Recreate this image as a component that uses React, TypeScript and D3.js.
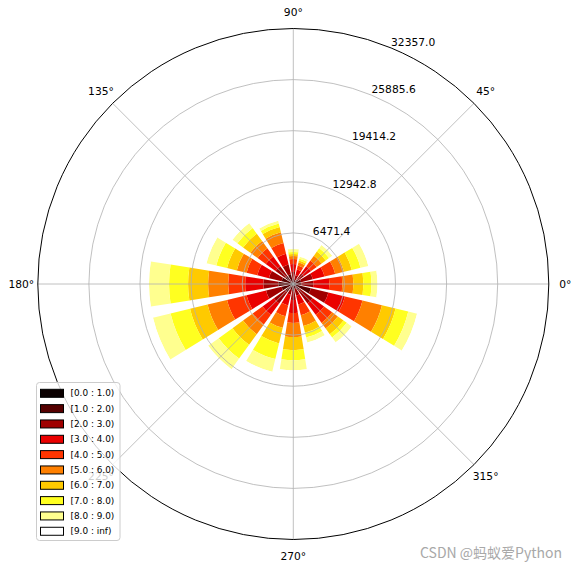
import React from 'react';
import * as d3 from 'd3';

// Direction centres (degrees, counter-clockwise from east)
const directions = [0, 22.5, 45, 67.5, 90, 112.5, 135, 157.5, 180, 202.5, 225, 247.5, 270, 292.5, 315, 337.5];

const binLabels = ['[0.0 : 1.0)', '[1.0 : 2.0)', '[2.0 : 3.0)', '[3.0 : 4.0)', '[4.0 : 5.0)', '[5.0 : 6.0)', '[6.0 : 7.0)', '[7.0 : 8.0)', '[8.0 : 9.0)', '[9.0 : inf)'];
const binColors = ['#0b0000', '#550000', '#9f0000', '#ea0000', '#ff3500', '#ff8000', '#ffca00', '#ffff20', '#ffff8f', '#ffffff'];

// Counts per speed bin, one value per direction (same order as `directions`)
const speed0to1 = [254, 254, 254, 127, 127, 254, 254, 254, 381, 381, 254, 254, 254, 127, 254, 381];
const speed1to2 = [761, 761, 508, 381, 508, 1015, 1015, 1269, 1523, 1142, 1015, 508, 635, 508, 761, 1904];
const speed2to3 = [1523, 1523, 888, 635, 888, 1269, 1523, 1650, 1904, 2030, 1777, 635, 1142, 888, 2030, 2284];
const speed3to4 = [2030, 1523, 1142, 761, 1015, 1396, 1523, 1523, 2284, 2538, 1777, 1396, 1650, 1142, 1777, 2157];
const speed4to5 = [1650, 1396, 888, 508, 635, 1396, 1269, 1396, 2157, 2538, 1523, 1396, 1269, 1396, 1269, 2284];
const speed5to6 = [1396, 1142, 761, 381, 381, 1396, 1142, 1269, 2538, 2538, 1523, 1523, 1777, 1396, 888, 2538];
const speed6to7 = [1269, 1015, 635, 254, 254, 698, 1142, 1269, 2538, 2284, 1650, 2030, 1650, 888, 888, 1777];
const speed7to8 = [1015, 1142, 508, 254, 254, 444, 888, 1396, 2411, 2538, 2157, 2030, 1269, 635, 508, 1650];
const speed8to9 = [761, 1015, 508, 254, 381, 381, 761, 1269, 2538, 2284, 1650, 1650, 1269, 635, 761, 1142];
const speed9up = [300, 250, 150, 80, 100, 150, 200, 300, 600, 550, 400, 350, 300, 150, 200, 400];

const radialTicks = [6471.4, 12942.8, 19414.2, 25885.6, 32357.0];
const angleTicks = [0, 45, 90, 135, 180, 225, 270, 315];

const W = 578;
const H = 569;
const cx = 293.3;
const cy = 284;
const R = 255.5;
const sectorDeg = 360 / directions.length;
const opening = 0.8;
const font = 'DejaVu Sans, sans-serif';

export default function App() {
  const bins = [speed0to1, speed1to2, speed2to3, speed3to4, speed4to5, speed5to6, speed6to7, speed7to8, speed8to9, speed9up];
  const r = d3.scaleLinear().domain([0, radialTicks[radialTicks.length - 1]]).range([0, R]);
  const arc = d3.arc<any>();
  const toRad = (d: number) => (d * Math.PI) / 180;
  const half = toRad((sectorDeg * opening) / 2);

  const segments: { d: string; fill: string; key: string }[] = [];
  directions.forEach((dir, i) => {
    let cum = 0;
    bins.forEach((b, j) => {
      const v = b[i];
      const a = Math.PI / 2 - toRad(dir);
      const d = arc({
        innerRadius: r(cum),
        outerRadius: r(cum + v),
        startAngle: a - half,
        endAngle: a + half,
      }) as string;
      segments.push({ d, fill: binColors[j], key: `${i}-${j}` });
      cum += v;
    });
  });

  const legendX = 36.5;
  const legendY = 382.5;
  const legendW = 83.5;
  const legendH = 158;
  const rowH = 15.33;

  return (
    <svg width={W} height={H} style={{ position: 'absolute', left: 0, top: 0, background: '#fff' }}>
      <rect x={0} y={0} width={W} height={H} fill="#ffffff" />
      <g transform={`translate(${cx},${cy})`}>
        {segments.map((s) => (
          <path key={s.key} d={s.d} fill={s.fill} stroke="none" />
        ))}
        {radialTicks.slice(0, -1).map((t) => (
          <circle key={t} r={r(t)} fill="none" stroke="#b0b0b0" strokeWidth={0.8} />
        ))}
        {angleTicks.map((a) => (
          <line
            key={a}
            x1={0}
            y1={0}
            x2={R * Math.cos(toRad(a))}
            y2={-R * Math.sin(toRad(a))}
            stroke="#b0b0b0"
            strokeWidth={0.8}
          />
        ))}
        <circle r={R} fill="none" stroke="#000" strokeWidth={1} />
        {radialTicks.map((t) => {
          const rr = r(t);
          const x = rr * Math.cos(toRad(67.5));
          const y = -rr * Math.sin(toRad(67.5));
          return (
            <text key={t} x={x} y={y - 2} fontFamily={font} fontSize={10.7} fill="#000" textAnchor="start">
              {t.toFixed(1)}
            </text>
          );
        })}
        {angleTicks.map((a) => {
          const rr = R + 16.5;
          return (
            <text
              key={a}
              x={rr * Math.cos(toRad(a))}
              y={-rr * Math.sin(toRad(a))}
              fontFamily={font}
              fontSize={10.7}
              fill="#000"
              textAnchor="middle"
              dominantBaseline="central"
            >
              {`${a}°`}
            </text>
          );
        })}
      </g>
      <g>
        <rect
          x={legendX}
          y={legendY}
          width={legendW}
          height={legendH}
          rx={3}
          fill="#ffffff"
          fillOpacity={0.8}
          stroke="#cccccc"
          strokeWidth={1}
        />
        {binLabels.map((lab, j) => {
          const yc = 393.3 + j * rowH;
          return (
            <g key={lab}>
              <rect x={40.5} y={yc - 4} width={23} height={8} fill={binColors[j]} stroke="#000" strokeWidth={1} />
              <text x={70.5} y={yc} fontFamily={font} fontSize={8.9} fill="#000" dominantBaseline="central">
                {lab}
              </text>
            </g>
          );
        })}
      </g>
      <text x={420} y={558} fontFamily="Noto Sans CJK SC, sans-serif" fontSize={14} fill="#a8a8a8">
        CSDN @蚂蚁爱Python
      </text>
    </svg>
  );
}
